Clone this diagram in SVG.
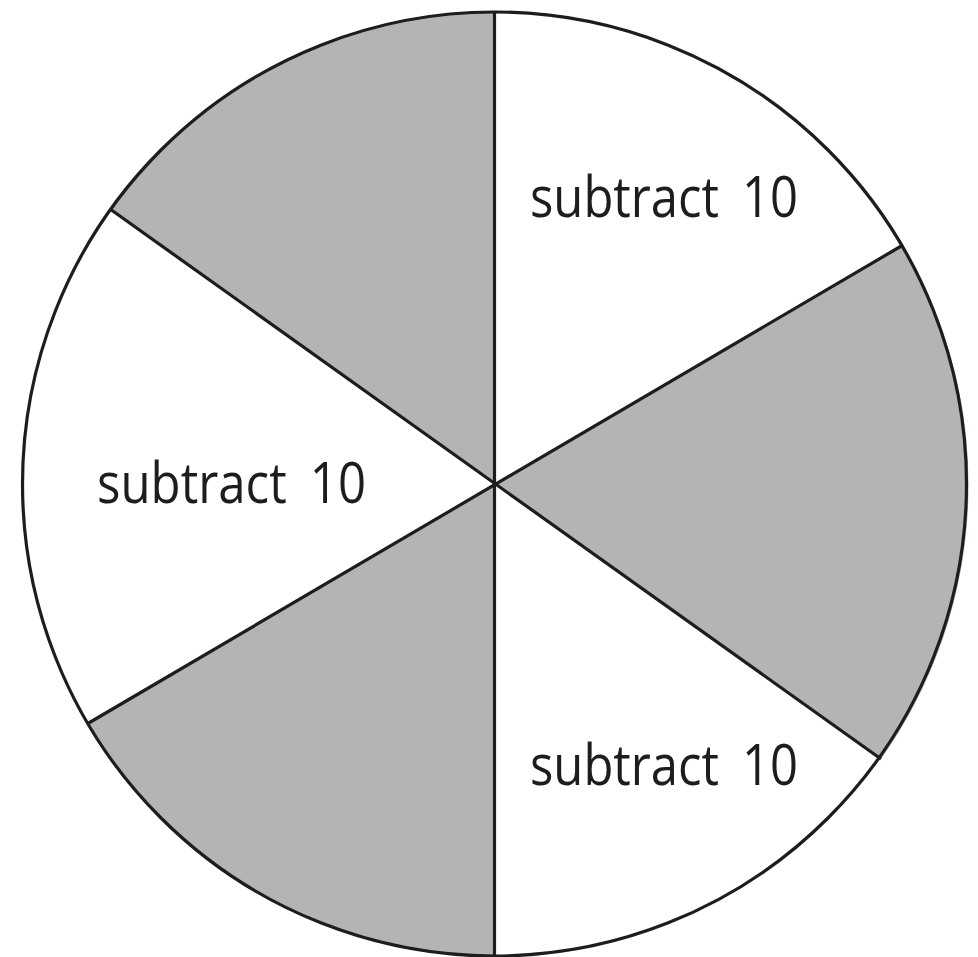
<svg xmlns="http://www.w3.org/2000/svg" width="978" height="957" viewBox="0 0 978 957">
<style>
.g{fill:#b3b4b6;stroke:none}
.ln{stroke:#1d1d1b;stroke-width:3.2;fill:none;stroke-linecap:butt}
.t{font-family:"Open Sans","Noto Sans",sans-serif;font-size:57px;fill:#1d1d1b;word-spacing:12px}
</style>
<rect width="978" height="957" fill="#ffffff"/>
<g id="sectors">
<path id="sector-top-left" class="g" d="M494.5,484 L110,209 A472.5,472.5 0 0 1 494.5,11.5 Z"/>
<path id="sector-right" class="g" d="M494.5,484 L903,245 A472.5,472.5 0 0 1 881,759 Z"/>
<path id="sector-bottom-left" class="g" d="M494.5,484 L494.5,956.5 A472.5,472.5 0 0 1 87,724 Z"/>
</g>
<g id="connectors">
<line class="ln" x1="494.5" y1="12" x2="494.5" y2="956"/>
<line class="ln" x1="110" y1="209" x2="881" y2="759"/>
<line class="ln" x1="903" y1="245" x2="87" y2="724"/>
</g>
<circle id="rim" class="ln" cx="494.5" cy="484" r="472"/>
<g id="label-1"><text class="t" x="530" y="217" textLength="268" lengthAdjust="spacingAndGlyphs">subtract 10</text></g>
<g id="label-2"><text class="t" x="97" y="503" textLength="269" lengthAdjust="spacingAndGlyphs">subtract 10</text></g>
<g id="label-3"><text class="t" x="530" y="785" textLength="268" lengthAdjust="spacingAndGlyphs">subtract 10</text></g>
</svg>
